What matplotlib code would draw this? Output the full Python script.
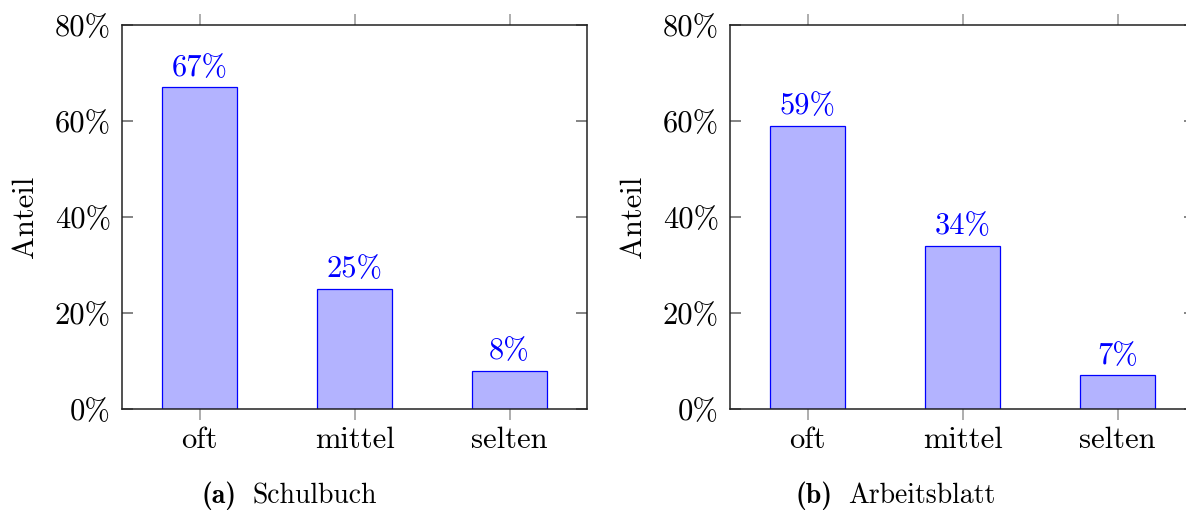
import matplotlib
matplotlib.use("Agg")
import matplotlib.pyplot as plt

# Data
categories = ["oft", "mittel", "selten"]
schulbuch = [67, 25, 8]
arbeitsblatt = [59, 34, 7]
y_ticks = [0, 20, 40, 60, 80]
captions = [("(a)", "Schulbuch"), ("(b)", "Arbeitsblatt")]

plt.rcParams["font.family"] = "cmr10"
plt.rcParams["axes.formatter.use_mathtext"] = True

W, H = 1186, 511
fig = plt.figure(figsize=(W / 100, H / 100), dpi=100)

FILL = "#b3b3ff"
EDGE = "#0000ff"


def draw_panel(ax, values):
    x = list(range(len(categories)))
    ax.bar(x, values, width=0.49, color=FILL, edgecolor=EDGE, linewidth=0.9, zorder=2)
    for xi, v in zip(x, values):
        ax.annotate(f"{v}%", (xi, v), xytext=(0, 4), textcoords="offset points",
                    ha="center", va="bottom", color=EDGE, fontsize=22)
    ax.set_xlim(-0.5, 2.5)
    ax.set_ylim(0, 80)
    ax.set_xticks(x)
    ax.set_xticklabels(categories)
    ax.set_yticks(y_ticks)
    ax.set_yticklabels([f"{t}%" for t in y_ticks])
    ax.tick_params(axis="x", direction="out", length=8, width=1.2, color="#a0a0a0",
                   top=True, labelsize=22, pad=5)
    ax.tick_params(axis="y", direction="in", length=8, width=1.2, color="#707070",
                   right=True, labelsize=22, pad=8)
    for s in ax.spines.values():
        s.set_linewidth(1.1)
        s.set_color("#222222")
    ax.set_ylabel("Anteil", fontsize=22)
    ax.yaxis.set_label_coords(-0.178, 0.5)


# axes positions in pixels (left, bottom spine y, top spine y, width)
bottom = (H - 409) / H
height = (409 - 25) / H
ax1 = fig.add_axes([122 / W, bottom, 465 / W, height])
ax2 = fig.add_axes([730 / W, bottom, 465 / W, height])

draw_panel(ax1, schulbuch)
draw_panel(ax2, arbeitsblatt)

# captions below each subfigure
cap_pos = [(202, 253), (795, 848)]
for (lab, txt), (xa, xb) in zip(captions, cap_pos):
    fig.text(xa / W, (H - 503) / H, lab, family="cmb10", fontsize=20, va="baseline", ha="left")
    fig.text(xb / W, (H - 503) / H, txt, fontsize=20, va="baseline", ha="left")

fig.savefig("out.png", dpi=100)
